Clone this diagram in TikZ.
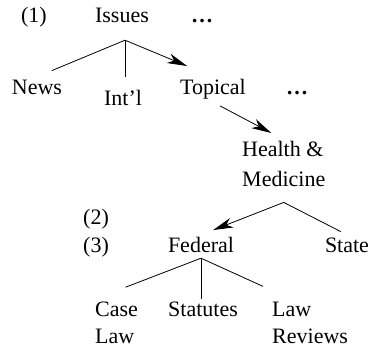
\documentclass[tikz,border=0pt]{standalone}
\usepackage{fontspec}
\setmainfont{Liberation Serif}
\usetikzlibrary{arrows.meta}

\begin{document}
\begin{tikzpicture}[
    x = 1pt, y = 1pt,
    node distance = 30pt,
    every node/.style = {font = \fontsize{22}{30}\selectfont, inner sep = 2pt},
    lbl/.style = {text height = 16pt, text depth = 5pt},
    stack/.style = {align = left},
    tight/.style = {stack, font = \fontsize{22}{27}\selectfont},
    branch/.style = {line width = 0.8pt},
    pick/.style = {-{Stealth[length = 20pt, width = 10pt, inset = 6pt]}}
]
\useasboundingbox (0,0) rectangle (370,350);
\node[lbl] (issues) at (122,332.5) {Issues};
\node[lbl] (one) [left of = issues, xshift = -58pt] {(1)};
\node[lbl] (moreissues) [right of = issues, xshift = 50pt] {\textbf{\dots}};
\node[lbl] (news) [below of = issues, xshift = -85pt, yshift = -42pt] {News};
\node[lbl] (intl) [below of = issues, xshift = 1pt, yshift = -53pt] {Int'l};
\node[lbl] (topical) [below of = issues, xshift = 91pt, yshift = -42pt] {Topical};
\node[lbl] (moretopics) [right of = topical, xshift = 54pt] {\textbf{\dots}};
\node[stack] (health) [below of = topical, xshift = 27pt, yshift = -67.5pt, anchor = base west] {Health \&\\Medicine};
\node[lbl] (federal) [below of = topical, xshift = -12pt, yshift = -128pt] {Federal};
\node[lbl] (three) [left of = federal, xshift = -75pt] {(3)};
\node[lbl] (two) [above of = three, yshift = -2pt] {(2)};
\node[lbl] (state) [right of = federal, xshift = 116pt] {State};
\node[lbl] (statutes) [below of = federal, xshift = 2pt, yshift = -34pt] {Statutes};
\node[tight] (case) [left of = statutes, xshift = -80pt, yshift = -32.5pt, anchor = base west] {Case\\Law};
\node[tight] (reviews) [right of = statutes, xshift = 37pt, yshift = -32.5pt, anchor = base west] {Law\\Reviews};
\coordinate (issuesfork) at ([xshift = 3pt, yshift = -10pt]issues.south);
\coordinate (healthfork) at ([yshift = -13pt]health.south);
\coordinate (federalfork) at ([yshift = 2pt]federal.south);
% branches
\path[branch]
(issuesfork) edge[shorten > = 16pt] (news.north)
(issuesfork) edge[shorten > = 11pt] (issuesfork |- intl.north)
(issuesfork) edge[pick, shorten > = 28pt] (topical.north)
(topical.south) edge[pick, shorten < = 8pt, shorten > = 14pt] (health.north)
(healthfork) edge[pick, shorten > = 13pt] (federal.north)
(healthfork) edge[shorten > = 7pt] (state.north)
(federalfork) edge[] ([xshift = 9pt, yshift = 13pt]case.north)
(federalfork) edge[] (federalfork |- statutes.north)
(federalfork) edge[] ([xshift = -7pt, yshift = 14pt]reviews.north west);

\end{tikzpicture}
\end{document}
